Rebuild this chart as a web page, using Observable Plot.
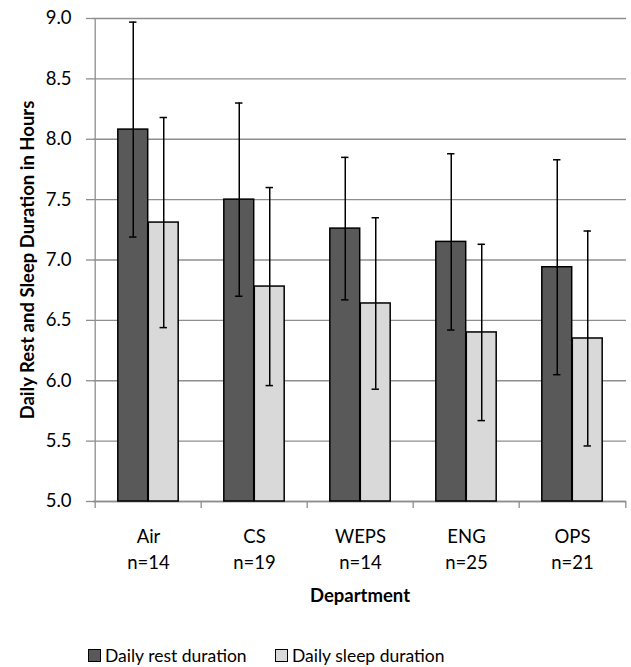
<!DOCTYPE html>
<html>
<head>
<meta charset="utf-8">
<script src="https://cdn.jsdelivr.net/npm/d3@7"></script>
<script src="https://cdn.jsdelivr.net/npm/@observablehq/plot@0.6"></script>
<style>
  body { margin: 0; background: #fff; font-family: Lato, "Open Sans", sans-serif; }
  #legend { position: relative; width: 631px; height: 35px; font-size: 17.5px; color: #000; }
  .item { position: absolute; top: 13px; display: flex; align-items: center; gap: 4px; white-space: nowrap; }
  .sw { width: 11px; height: 11px; border: 1.5px solid #000; display: inline-block; }
</style>
</head>
<body>
<div id="chart"></div>
<div id="legend"></div>
<script>
const departments = ["Air", "CS", "WEPS", "ENG", "OPS"];
const counts = [14, 19, 14, 25, 21];
const restMean = [8.08, 7.50, 7.26, 7.15, 6.94];
const restSD = [0.89, 0.80, 0.59, 0.73, 0.89];
const sleepMean = [7.31, 6.78, 6.64, 6.40, 6.35];
const sleepSD = [0.87, 0.82, 0.71, 0.73, 0.89];
const seriesNames = ["Daily rest duration", "Daily sleep duration"];
const seriesColors = ["#595959", "#d9d9d9"];
const yTicks = [5.0, 5.5, 6.0, 6.5, 7.0, 7.5, 8.0, 8.5, 9.0];

const W = 631, H = 632, ml = 93, mr = 5, mt = 18, mb = 131;
const bw = (W - ml - mr) / departments.length;
const barW = bw * 0.286;
const capHalf = 4;

const rows = departments.map((d, i) => ({
  dept: d, n: counts[i],
  rest: restMean[i], restLo: restMean[i] - restSD[i], restHi: restMean[i] + restSD[i],
  sleep: sleepMean[i], sleepLo: sleepMean[i] - sleepSD[i], sleepHi: sleepMean[i] + sleepSD[i]
}));
const labelOf = Object.fromEntries(rows.map(r => [r.dept, `${r.dept}\nn=${r.n}`]));
const gray = "#8e8e8e";

const chart = Plot.plot({
  width: W, height: H,
  marginLeft: ml, marginRight: mr, marginTop: mt, marginBottom: mb,
  style: { fontFamily: "Lato, 'Open Sans', sans-serif", fontSize: "18.5px", color: "#000", background: "#fff" },
  x: { type: "band", domain: departments, paddingInner: 0, paddingOuter: 0, label: null },
  y: { domain: [5, 9], label: null },
  marks: [
    Plot.gridY(yTicks, { stroke: gray, strokeOpacity: 1, strokeWidth: 1.3 }),
    Plot.ruleY([5], { stroke: gray, strokeWidth: 1.3 }),
    // y axis line
    Plot.ruleX([departments[0]], { dx: -bw / 2, y1: 5, y2: 9, stroke: gray, strokeWidth: 1.3 }),
    // x boundary ticks
    Plot.ruleX(departments, { dx: -bw / 2, y1: 5, y2: 5, insetBottom: -7, stroke: gray, strokeWidth: 1.3 }),
    Plot.ruleX([departments[departments.length - 1]], { dx: bw / 2, y1: 5, y2: 5, insetBottom: -7, stroke: gray, strokeWidth: 1.3 }),
    Plot.barY(rows, { x: "dept", y1: 5, y2: "rest", fill: seriesColors[0], stroke: "#000", strokeWidth: 1.5,
      insetLeft: bw / 2 - barW, insetRight: bw / 2 }),
    Plot.barY(rows, { x: "dept", y1: 5, y2: "sleep", fill: seriesColors[1], stroke: "#000", strokeWidth: 1.5,
      insetLeft: bw / 2, insetRight: bw / 2 - barW }),
    // error bars
    Plot.ruleX(rows, { x: "dept", y1: "restLo", y2: "restHi", dx: -barW / 2, stroke: "#000", strokeWidth: 1.5 }),
    Plot.ruleX(rows, { x: "dept", y1: "sleepLo", y2: "sleepHi", dx: barW / 2, stroke: "#000", strokeWidth: 1.5 }),
    Plot.tickY(rows, { x: "dept", y: "restLo", dx: -barW / 2, insetLeft: bw / 2 - capHalf, insetRight: bw / 2 - capHalf, stroke: "#000", strokeWidth: 1.5 }),
    Plot.tickY(rows, { x: "dept", y: "restHi", dx: -barW / 2, insetLeft: bw / 2 - capHalf, insetRight: bw / 2 - capHalf, stroke: "#000", strokeWidth: 1.5 }),
    Plot.tickY(rows, { x: "dept", y: "sleepLo", dx: barW / 2, insetLeft: bw / 2 - capHalf, insetRight: bw / 2 - capHalf, stroke: "#000", strokeWidth: 1.5 }),
    Plot.tickY(rows, { x: "dept", y: "sleepHi", dx: barW / 2, insetLeft: bw / 2 - capHalf, insetRight: bw / 2 - capHalf, stroke: "#000", strokeWidth: 1.5 }),
    Plot.axisY(yTicks, { tickFormat: d3.format(".1f"), tickSize: 7, tickPadding: 15, stroke: gray, strokeWidth: 1.3, label: null }),
    Plot.axisY({ ticks: [], label: "Daily Rest and Sleep Duration in Hours", labelArrow: "none", labelAnchor: "center", labelOffset: 73, fontWeight: "bold", fontSize: 18.5 }),
    Plot.axisX({ tickSize: 0, tickPadding: 22, tickFormat: d => labelOf[d], lineHeight: 1.45, label: null }),
    Plot.axisX({ ticks: [], label: "Department", labelArrow: "none", labelAnchor: "center", labelOffset: 100, fontWeight: "bold", fontSize: 18.5 })
  ]
});
document.getElementById("chart").appendChild(chart);

const legend = document.getElementById("legend");
const legendLeft = [88, 275];
seriesNames.forEach((name, i) => {
  const it = document.createElement("div");
  it.className = "item";
  it.style.left = legendLeft[i] + "px";
  const sw = document.createElement("span");
  sw.className = "sw";
  sw.style.background = seriesColors[i];
  const tx = document.createElement("span");
  tx.textContent = name;
  it.appendChild(sw); it.appendChild(tx);
  legend.appendChild(it);
});
</script>
</body>
</html>
